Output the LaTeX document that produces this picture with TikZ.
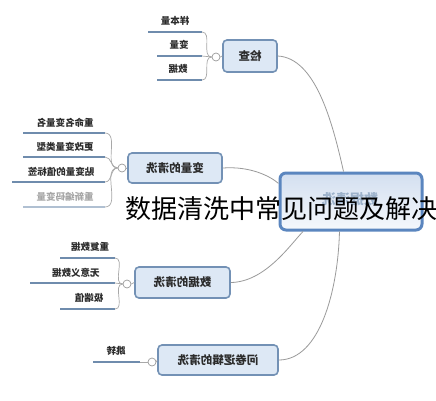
\documentclass[tikz,border=0pt]{standalone}
\usepackage{fontspec}
\usepackage{graphicx}
\newfontfamily\cjk{Noto Sans CJK SC}
\usetikzlibrary{calc}
\definecolor{topicfill}{HTML}{DDE8F5}
\definecolor{topicborder}{HTML}{7391B5}
\definecolor{leafcol}{HTML}{6F8CAD}
\definecolor{brackcol}{HTML}{A8A8A8}
\definecolor{conncol}{HTML}{9A9A9A}
\definecolor{txtcol}{HTML}{2B2B2B}
\definecolor{mainborder}{HTML}{5B86BF}
\definecolor{maintop}{HTML}{D3DFF0}
\definecolor{mainbot}{HTML}{F5F8FC}
\tikzset{
  topic/.style={draw=topicborder, line width=1.6pt, fill=topicfill, rounded corners=4pt,
    inner sep=0pt, text=txtcol, font=\cjk\bfseries\fontsize{11.5}{13}\selectfont},
  leafline/.style={draw=leafcol, line width=2.8pt},
  leaflabel/.style={inner sep=0pt, text=txtcol, font=\cjk\bfseries\fontsize{9.5}{11}\selectfont},
  bracket/.style={draw=brackcol, line width=0.7pt},
  conn/.style={draw=conncol, line width=0.8pt},
  knob/.style={circle, draw=conncol, line width=0.7pt, fill=white, inner sep=0pt, minimum size=8pt}
}
\begin{document}
\begin{tikzpicture}[x=1pt,y=-1pt]
\useasboundingbox[fill=white] (0,0) rectangle (436,400);

% central node
\node[draw=mainborder, line width=3pt, rounded corners=6pt, top color=maintop, bottom color=mainbot,
  minimum width=142pt, minimum height=57pt, inner sep=0pt] (cn) at (351,201.5) {};
\node[inner sep=0pt, text=topicborder!70, font=\cjk\bfseries\fontsize{14}{16}\selectfont] (cnt) at (350,199) {\reflectbox{数据清洗}};

% topics
\node[topic, minimum width=54pt, minimum height=32pt] (jc) at (250,56) {\reflectbox{检查}};
\node[topic, minimum width=94pt, minimum height=30pt] (bl) at (175,168) {\reflectbox{变量的清洗}};
\node[topic, minimum width=95pt, minimum height=31pt] (sj) at (182.5,282.5) {\reflectbox{数据的清洗}};
\node[topic, minimum width=120pt, minimum height=30pt] (wj) at (218,360) {\reflectbox{问卷逻辑的清洗}};

% connectors to centre
\draw[conn] (jc.east) .. controls (315,58) and (332,120) .. (cn.104);
\draw[conn] (bl.east) .. controls (250,166) and (270,176) .. (cn.166);
\draw[conn] (sj.east) .. controls (265,282) and (290,245) .. (cn.212);
\draw[conn] (wj.east) .. controls (320,360) and (338,290) .. (cn.249);

% knobs
\node[knob] (k1) at (216,57) {};
\node[knob] (k2) at (122,168) {};
\node[knob] (k3) at (127,284) {};
\node[knob] (k4) at (152,362) {};
\draw[bracket] (k1.east) -- (jc.west);
\draw[bracket] (k2.east) -- (bl.west);
\draw[bracket] (k3.east) -- (sj.west);
\draw[bracket] (k4.east) -- (wj.west);

% group 检查
\coordinate (a1s) at (148,32); \coordinate (a1e) at (202,32);
\coordinate (a2s) at (157,56); \coordinate (a2e) at (202,56);
\coordinate (a3s) at (157,80); \coordinate (a3e) at (202,80);
\draw[leafline] (a1s) -- (a1e);
\draw[leafline] (a2s) -- (a2e);
\draw[leafline] (a3s) -- (a3e);
\foreach \e in {a1e,a2e,a3e} \draw[bracket] (k1.west) to[out=180,in=0] (\e);
\node[leaflabel] (a1) at (175,21) {\reflectbox{样本量}};
\node[leaflabel] (a2) at (179,45) {\reflectbox{变量}};
\node[leaflabel] (a3) at (178,69) {\reflectbox{数据}};

% group 变量的清洗
\coordinate (b1s) at (23,133); \coordinate (b1e) at (105,133);
\coordinate (b2s) at (23,157); \coordinate (b2e) at (105,157);
\coordinate (b3s) at (12,182); \coordinate (b3e) at (105,182);
\coordinate (b4s) at (23,207); \coordinate (b4e) at (105,207);
\draw[leafline] (b1s) -- (b1e);
\draw[leafline] (b2s) -- (b2e);
\draw[leafline] (b3s) -- (b3e);
\draw[leafline, draw=leafcol!55] (b4s) -- (b4e);
\foreach \e in {b1e,b2e,b3e,b4e} \draw[bracket] (k2.west) to[out=180,in=0] (\e);
\node[leaflabel] (b1) at (65,123) {\reflectbox{重命名变量名}};
\node[leaflabel] (b2) at (65,147) {\reflectbox{更改变量类型}};
\node[leaflabel] (b3) at (61,172) {\reflectbox{贴变量的值标签}};
\node[leaflabel, text=gray!70] (b4) at (65,197) {\reflectbox{重新编码变量}};

% group 数据的清洗
\coordinate (c1s) at (60,258); \coordinate (c1e) at (115,258);
\coordinate (c2s) at (30,283); \coordinate (c2e) at (115,283);
\coordinate (c3s) at (60,309); \coordinate (c3e) at (115,309);
\draw[leafline] (c1s) -- (c1e);
\draw[leafline] (c2s) -- (c2e);
\draw[leafline] (c3s) -- (c3e);
\foreach \e in {c1e,c2e,c3e} \draw[bracket] (k3.west) to[out=180,in=0] (\e);
\node[leaflabel] (c1) at (90,247) {\reflectbox{重复数据}};
\node[leaflabel] (c2) at (76,273) {\reflectbox{无意义数据}};
\node[leaflabel] (c3) at (89,298) {\reflectbox{极端值}};

% group 问卷逻辑的清洗
\coordinate (d1s) at (93,362); \coordinate (d1e) at (140,362);
\draw[leafline] (d1s) -- (d1e);
\draw[bracket] (k4.west) -- (d1e);
\node[leaflabel] (d1) at (116,351) {\reflectbox{跳转}};

% overlay title
\node[inner sep=0pt, anchor=west, text=black, font=\cjk\fontsize{26}{28}\selectfont] (title) at (125,209) {数据清洗中常见问题及解决};
\end{tikzpicture}
\end{document}
